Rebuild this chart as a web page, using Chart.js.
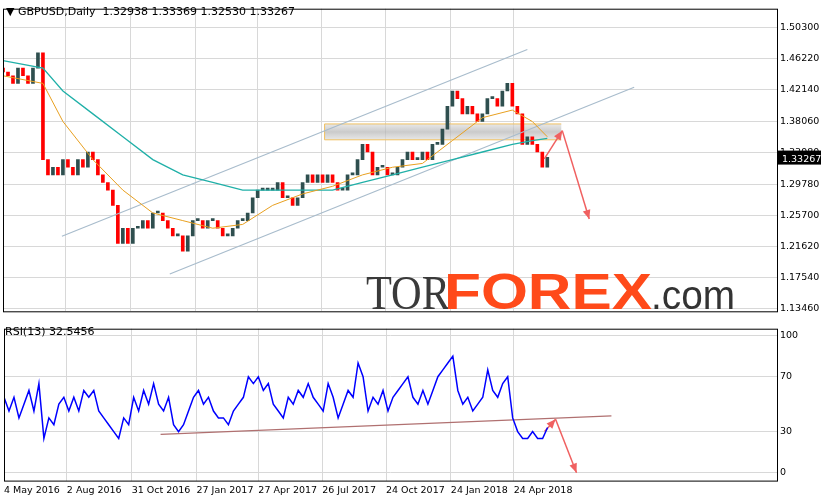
<!DOCTYPE html><html><head><script src="https://cdn.jsdelivr.net/npm/chart.js@4"></script>
<style>body{margin:0;background:#fff;width:821px;height:500px;overflow:hidden;position:relative}canvas{position:absolute;left:0}</style></head><body>
<div style="position:absolute;left:0;top:0;width:821px;height:320px"><canvas id="p"></canvas></div>
<div style="position:absolute;left:0;top:320px;width:821px;height:180px"><canvas id="r"></canvas></div>
<script>
const step=5;
const closes=[1.445,1.44,1.43,1.45,1.44,1.43,1.45,1.47,1.33,1.31,1.32,1.31,1.33,1.32,1.31,1.33,1.32,1.34,1.33,1.31,1.30,1.29,1.27,1.22,1.24,1.22,1.24,1.24,1.25,1.24,1.26,1.26,1.25,1.24,1.23,1.23,1.21,1.23,1.25,1.25,1.24,1.25,1.25,1.24,1.23,1.23,1.24,1.25,1.25,1.26,1.28,1.29,1.29,1.29,1.29,1.30,1.28,1.28,1.27,1.28,1.30,1.31,1.30,1.31,1.30,1.31,1.30,1.29,1.29,1.31,1.31,1.33,1.35,1.34,1.31,1.32,1.32,1.31,1.31,1.32,1.33,1.34,1.33,1.33,1.34,1.33,1.35,1.35,1.37,1.40,1.42,1.41,1.39,1.40,1.39,1.38,1.39,1.41,1.41,1.40,1.42,1.43,1.40,1.39,1.35,1.36,1.35,1.34,1.32,1.333];
const rsi=[55,45,55,40,50,60,45,65,25,40,35,50,55,45,55,45,60,55,60,45,40,35,30,25,40,35,55,45,60,50,65,50,45,55,35,30,35,45,55,60,50,55,45,40,40,35,45,50,55,70,65,70,60,65,50,45,40,55,50,60,55,65,55,50,45,65,55,40,50,60,55,80,70,45,55,50,60,45,55,60,65,70,55,50,60,50,60,70,75,80,85,60,50,55,45,50,55,75,60,55,65,70,40,30,25,25,30,25,25,33];
const maX=[0,40,60,90,120,150,180,210,240,270,300,330,360,390,420,450,480,510,530,545];
const ma200=[1.46,1.45,1.42,1.39,1.36,1.33,1.31,1.30,1.29,1.29,1.29,1.29,1.30,1.31,1.32,1.33,1.34,1.35,1.355,1.358];
const ma50=[1.44,1.43,1.38,1.33,1.29,1.26,1.25,1.24,1.245,1.27,1.285,1.295,1.31,1.32,1.325,1.355,1.385,1.395,1.38,1.36];
const tickPos=[0,63,128,193,255,319,383,448,511];
const tickLabels=['4 May 2016','2 Aug 2016','31 Oct 2016','27 Jan 2017','27 Apr 2017','26 Jul 2017','24 Oct 2017','24 Jan 2018','24 Apr 2018'];
const priceTicks=[1.503,1.4622,1.4214,1.3806,1.3398,1.2978,1.257,1.2162,1.1754,1.1346];
const rsiTicks=[0,30,70,100];
const channel1=[[59,1.2295],[525,1.4745]], channel2=[[167,1.18],[632,1.425]];
const box=[322,559,1.3768,1.356];
const arrowsP=[[[542,1.331],[560,1.368]],[[560,1.368],[587,1.252]]];
const arrowsR=[[[542,30],[553,39]],[[553,39],[574,0]]];
const rsiLine=[[157,28],[609,41.4]];

const candles=closes.map((c,i)=>({x:i*step,y:[i?closes[i-1]:c+0.005,c]}));
const W=44;
function fitY(a){a.width=W;}
const grid={color:'#d8d8d8',borderDash:[3,3],drawTicks:false};
const tfont={family:'DejaVu Sans',size:9.5};
function seg(pts,col,w){return{type:'line',data:pts.map(p=>({x:p[0],y:p[1]})),borderColor:col,borderWidth:w,pointRadius:0,fill:false};}
function arrowPlugin(list){return{id:'arr',afterDatasetsDraw(ch){const c=ch.ctx,x=ch.scales.x,y=ch.scales.y;c.save();c.fillStyle='#f06060';list.forEach(a=>{const x1=x.getPixelForValue(a[0][0]),y1=y.getPixelForValue(a[0][1]),x2=x.getPixelForValue(a[1][0]),y2=y.getPixelForValue(a[1][1]);const an=Math.atan2(y2-y1,x2-x1);c.beginPath();c.moveTo(x2,y2);c.lineTo(x2-10*Math.cos(an-0.4),y2-10*Math.sin(an-0.4));c.lineTo(x2-10*Math.cos(an+0.4),y2-10*Math.sin(an+0.4));c.fill();});c.restore();}};}
const frame={id:'frame',afterDraw(ch){const c=ch.ctx,a=ch.chartArea;c.save();c.strokeStyle='#000';c.lineWidth=1;c.strokeRect(a.left+.5,a.top+.5,a.right-a.left,a.bottom-a.top);c.restore();}};
function fitText(c,t,x,yb,w,font,col){c.font=font;const m=c.measureText(t).width;c.save();c.translate(x,yb);c.scale(w/m,1);c.fillStyle=col;c.fillText(t,0,0);c.restore();}
const priceExtra={id:'pe',beforeDatasetsDraw(ch){const c=ch.ctx,x=ch.scales.x,y=ch.scales.y;const x1=x.getPixelForValue(box[0]),x2=x.getPixelForValue(box[1]),y1=y.getPixelForValue(box[2]),y2=y.getPixelForValue(box[3]);c.save();const g=c.createLinearGradient(0,y1,0,y2);g.addColorStop(0,'rgba(215,215,215,0.6)');g.addColorStop(0.5,'rgba(180,180,180,0.7)');g.addColorStop(1,'rgba(215,215,215,0.6)');c.fillStyle=g;c.fillRect(x1,y1,x2-x1,y2-y1);c.strokeStyle='#f0c060';c.beginPath();c.moveTo(x1,y1);c.lineTo(x2,y1);c.moveTo(x1,y2);c.lineTo(x2,y2);c.moveTo(x1,y1);c.lineTo(x1,y2);c.stroke();
c.textBaseline='alphabetic';
fitText(c,'TOR',366,309,84,'48px "Liberation Serif"','#3a3a3a');
fitText(c,'FOREX',444,309,208,'bold 50px "Liberation Sans"','#ff4a1a');
fitText(c,'.com',651,309,84,'40px "Liberation Sans"','#333');
c.font='11px "DejaVu Sans"';c.fillStyle='#000';c.fillText('▼ GBPUSD,Daily  1.32938 1.33369 1.32530 1.33267',6,15);
const ly=y.getPixelForValue(1.33267);const r=ch.chartArea.right;c.fillStyle='#000';c.fillRect(r+1,ly-7,W,14);c.fillStyle='#fff';c.font='9.5px "DejaVu Sans"';c.fillText('1.33267',r+5,ly+4);c.restore();}};
new Chart(document.getElementById('p'),{type:'bar',data:{datasets:[
{type:'bar',data:candles,backgroundColor:ctx=>{const d=ctx.raw;return d&&d.y[1]>=d.y[0]?'#2f4f4f':'#ff0000';},barThickness:3,minBarLength:2,order:3},
seg(maX.map((v,i)=>[v,ma50[i]]),'#e8a020',1),seg(maX.map((v,i)=>[v,ma200[i]]),'#20b0a8',1.3),
seg(channel1,'#a8bccc',1.2),seg(channel2,'#a8bccc',1.2),...arrowsP.map(a=>seg(a,'#f06060',1.5))]},
options:{animation:false,responsive:true,maintainAspectRatio:false,layout:{padding:{left:3,top:2,bottom:2}},plugins:{legend:{display:false},tooltip:{enabled:false}},
scales:{x:{type:'linear',offset:false,min:0,max:775,display:true,grid:{...grid,offset:false},border:{display:false},ticks:{display:false},afterBuildTicks:s=>{s.ticks=tickPos.map(v=>({value:v}));}},
y:{position:'right',min:1.131,max:1.528,grid:grid,border:{display:false},afterFit:fitY,afterBuildTicks:s=>{s.ticks=priceTicks.map(v=>({value:v}));},ticks:{font:tfont,color:'#000',padding:3,callback:v=>v.toFixed(5)}}}},plugins:[priceExtra,frame,arrowPlugin(arrowsP)]});
const rsiExtra={id:'re',afterDraw(ch){const c=ch.ctx;c.save();c.font='11px "DejaVu Sans"';c.fillStyle='#000';c.fillText('RSI(13) 32.5456',5,15);c.restore();}};
new Chart(document.getElementById('r'),{type:'line',data:{datasets:[
{data:rsi.map((v,i)=>({x:i*step,y:v})),borderColor:'#0000ff',borderWidth:1.5,pointRadius:0,tension:0},
seg(rsiLine,'#b07070',1.2),...arrowsR.map(a=>seg(a,'#f06060',1.5))]},
options:{animation:false,responsive:true,maintainAspectRatio:false,layout:{padding:{left:3,top:5}},plugins:{legend:{display:false},tooltip:{enabled:false}},
scales:{x:{type:'linear',min:0,max:775,grid:grid,border:{display:false},afterBuildTicks:s=>{s.ticks=tickPos.map(v=>({value:v}));},ticks:{font:tfont,color:'#000',align:'start',padding:4,callback:(v,i)=>tickLabels[i]}},
y:{position:'right',min:-5.7,max:105,grid:grid,border:{display:false},afterFit:fitY,afterBuildTicks:s=>{s.ticks=rsiTicks.map(v=>({value:v}));},ticks:{font:tfont,color:'#000',padding:3}}}},plugins:[rsiExtra,frame,arrowPlugin(arrowsR)]});
</script></body></html>
